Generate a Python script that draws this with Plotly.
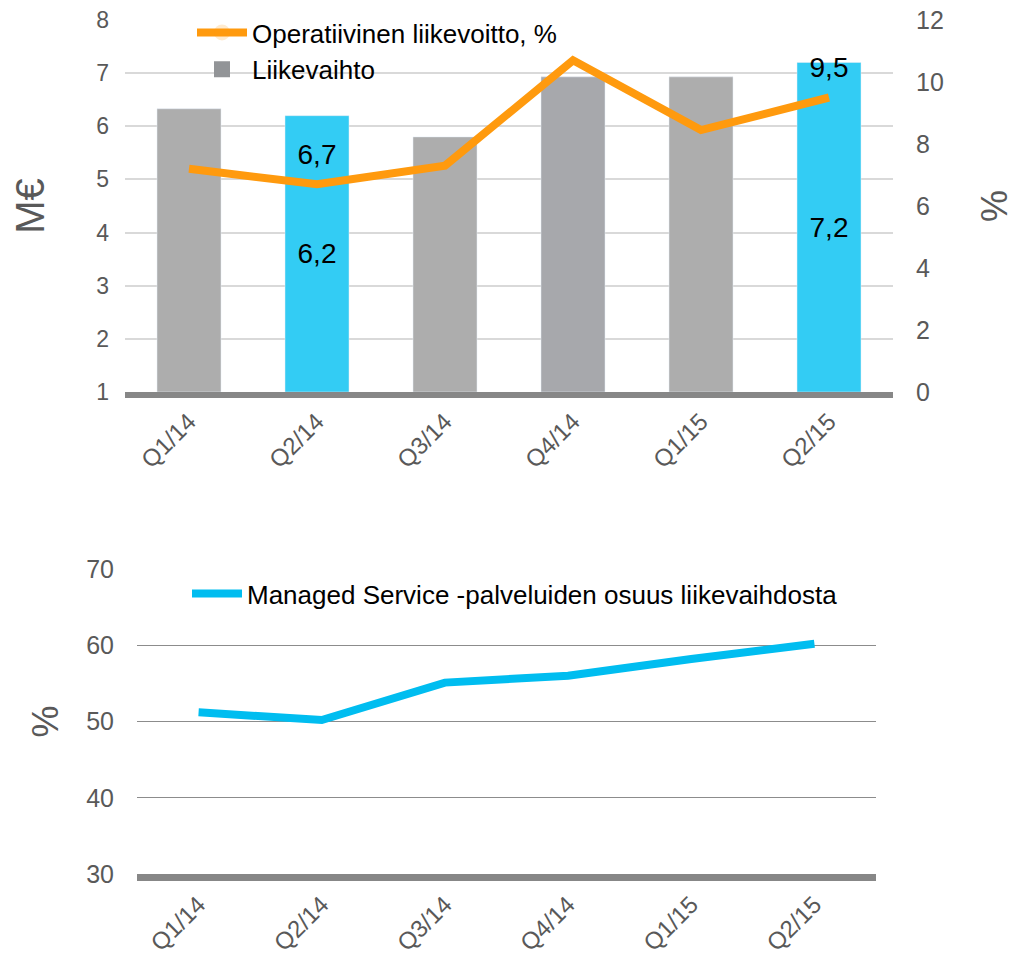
import plotly.graph_objects as go

quarters = ['Q1/14', 'Q2/14', 'Q3/14', 'Q4/14', 'Q1/15', 'Q2/15']
revenue = [6.33, 6.2, 5.8, 6.93, 6.93, 7.2]
revenue_labels = ['', '6,2', '', '', '', '7,2']
bar_colors = ['#ADADAD', '#33CCF4', '#ADADAD', '#A7A8AC', '#ADADAD', '#33CCF4']
op_margin = [7.2, 6.7, 7.3, 10.7, 8.45, 9.5]
op_labels = ['', '6,7', '', '', '', '9,5']
managed_share = [51.2, 50.2, 55.1, 56.0, 58.2, 60.2]

FONT = 'Liberation Sans, Arial, sans-serif'
# the page body has an 8px margin, so the figure is a bit smaller than the window
OFF = 8
W, H = 1017 - OFF, 954 - OFF
REV_BASE = 1  # bars start at the axis minimum, as in the original


def px_x(p):
    return (p - OFF) / W


def px_y(p):
    return 1 - (p - OFF) / H


fig = go.Figure()

# legend-only symbol for the bars (darker grey than the bars themselves)
fig.add_trace(go.Bar(x=[quarters[0]], y=[None], name='Liikevaihto',
                     marker=dict(color='#929497', line=dict(color='#929497', width=4)),
                     xaxis='x', yaxis='y', legend='legend', legendrank=2))

fig.add_trace(go.Bar(
    x=quarters, y=[v - REV_BASE for v in revenue], base=REV_BASE,
    marker_color=bar_colors, showlegend=False,
    text=revenue_labels, textposition='inside', insidetextanchor='middle',
    textfont=dict(color='black', size=28, family=FONT),
    xaxis='x', yaxis='y',
))

fig.add_trace(go.Scatter(
    x=quarters, y=op_margin, name='Operatiivinen liikevoitto, %',
    mode='lines+markers+text', line=dict(color='#FF9A0E', width=8),
    marker=dict(size=20, opacity=0),
    text=op_labels, textposition='top center',
    textfont=dict(color='black', size=28, family=FONT),
    xaxis='x', yaxis='y2', legend='legend', legendrank=1,
))

fig.add_trace(go.Scatter(
    x=quarters, y=managed_share, name='Managed Service -palveluiden osuus liikevaihdosta',
    mode='lines', line=dict(color='#00BDF0', width=8),
    xaxis='x2', yaxis='y3', legend='legend2',
))

x_font = dict(family=FONT, size=24, color='#595959')
left_font = dict(family=FONT, size=23, color='#595959')
right_font = dict(family=FONT, size=25, color='#595959')

fig.update_layout(
    width=W, height=H,
    margin=dict(l=0, r=0, t=0, b=0),
    paper_bgcolor='white', plot_bgcolor='white',
    barmode='overlay', bargap=0.5,
    font=dict(family=FONT),
    xaxis=dict(domain=[px_x(125), px_x(893)], anchor='y', type='category',
               tickangle=-45, tickfont=x_font, showgrid=False, showline=True,
               linecolor='#878787', linewidth=6, ticklabelshift=0,
               ticklabelstandoff=0, automargin=False),
    yaxis=dict(domain=[px_y(392), px_y(20)], range=[1, 8], dtick=1,
               tickfont=left_font, gridcolor='#D9D9D9', gridwidth=1.5,
               zeroline=False, ticklabelstandoff=15, automargin=False,
               ticklabeloverflow='allow',
               title=dict(text='M€', font=dict(size=40, color='#595959'), standoff=45)),
    yaxis2=dict(overlaying='y', side='right', range=[0, 12], dtick=2,
                tickfont=right_font, showgrid=False, zeroline=False,
                ticklabelstandoff=22, anchor='x', automargin=False,
                ticklabeloverflow='allow',
                title=dict(text='%', font=dict(size=36, color='#595959'), standoff=38)),
    xaxis2=dict(domain=[px_x(137), px_x(876)], anchor='y3', type='category',
                range=[-0.5, 5.5], tickangle=-45, tickfont=x_font, showgrid=False,
                showline=True, linecolor='#878787', linewidth=7, ticklabelshift=0,
                ticklabelstandoff=0, automargin=False),
    yaxis3=dict(domain=[px_y(874), px_y(569)], range=[30, 70], dtick=10,
                tickfont=right_font, gridcolor='#8C8C8C', gridwidth=1.2,
                zeroline=False, ticklabelstandoff=10, automargin=False,
                title=dict(text='%', font=dict(size=36, color='#595959'), standoff=16)),
    legend=dict(x=px_x(192), y=px_y(9), xanchor='left', yanchor='top',
                bgcolor='rgba(0,0,0,0)', font=dict(size=26, color='black', family=FONT),
                traceorder='normal', itemwidth=50),
    legend2=dict(x=px_x(187), y=px_y(570), xanchor='left', yanchor='top',
                 bgcolor='rgba(0,0,0,0)', font=dict(size=26, color='black', family=FONT),
                 itemwidth=50),
)

fig.write_html('out.html')
